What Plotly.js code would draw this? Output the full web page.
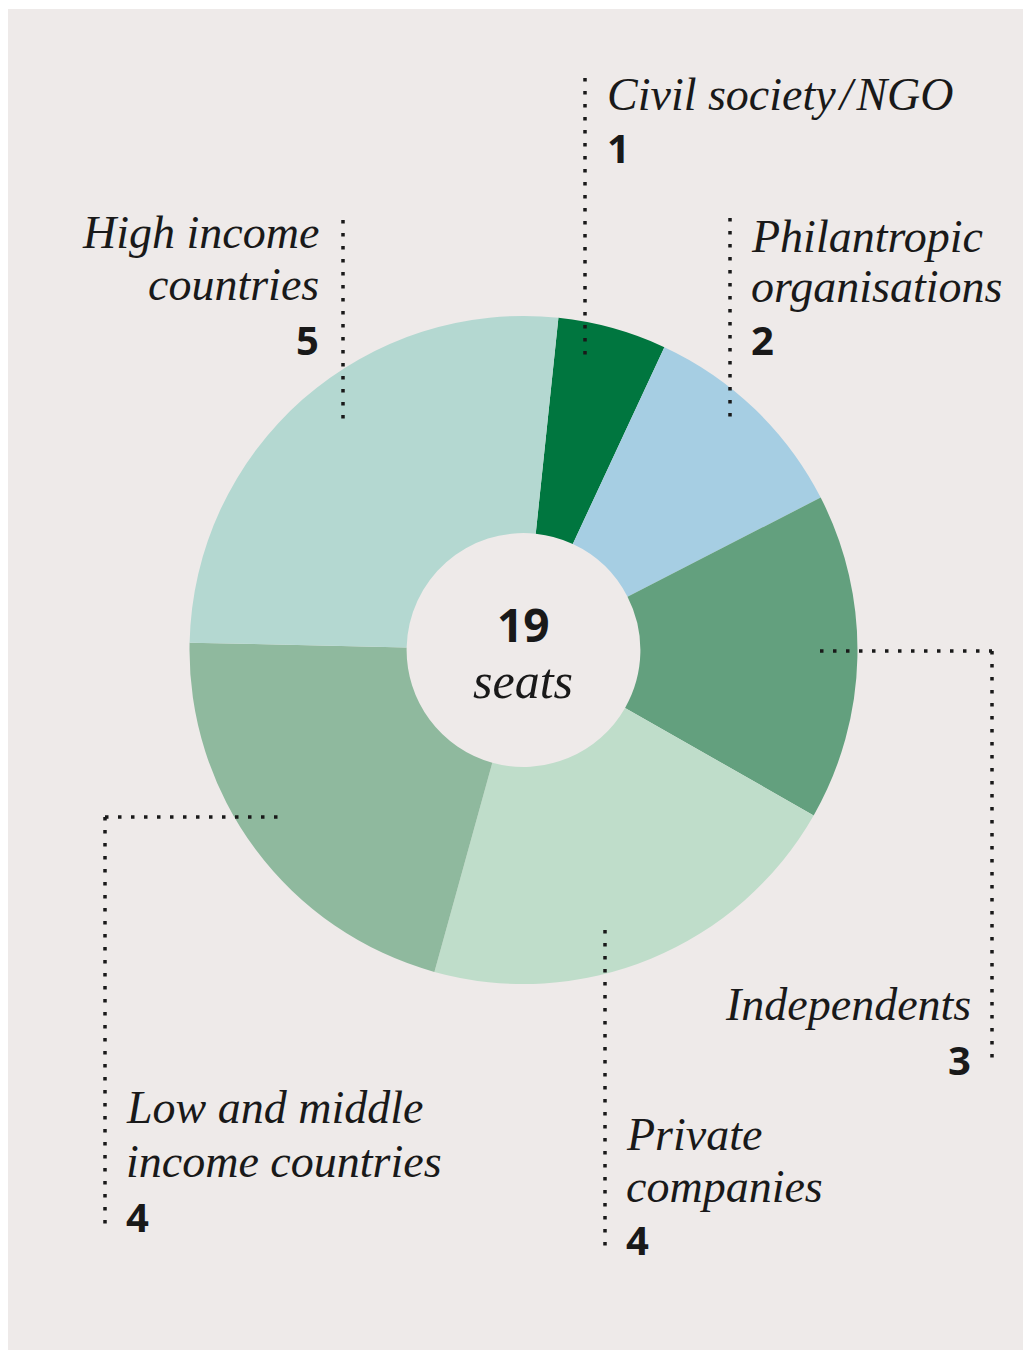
<!DOCTYPE html>
<html>
<head>
<meta charset="utf-8">
<script src="https://cdn.plot.ly/plotly-3.0.1.min.js"></script>
<style>html,body{margin:0;padding:0;background:#fff;}#chart{width:1023px;height:1350px;}</style>
</head>
<body>
<div id="chart"></div>
<script>
// ---- data ----
var labels = ['Civil society / NGO', 'Philantropic<br>organisations', 'Independents', 'Private<br>companies', 'Low and middle<br>income countries', 'High income<br>countries'];
var values = [1, 2, 3, 4, 4, 5];
var colors = ['#00763f', '#a6cee3', '#63a07e', '#bfddca', '#8fb99e', '#b4d8d1'];
var centerNumber = '19';
var centerWord = 'seats';

// ---- layout helpers (pixel positions of label blocks) ----
var W = 1023, H = 1350;
function px(x) { return x / W; }
function py(y) { return 1 - y / H; }

var labelPos = [
  {x: 605, anchor: 'left',  base: [110], num: 163},
  {x: 749, anchor: 'left',  base: [252, 302], num: 355},
  {x: 973, anchor: 'right', base: [1020], num: 1075},
  {x: 624, anchor: 'left',  base: [1150, 1202], num: 1255},
  {x: 124, anchor: 'left',  base: [1123, 1177], num: 1232},
  {x: 321, anchor: 'right', base: [248, 300], num: 355}
];
var leaders = [
  [[585, 78, 585, 358]],
  [[730, 218, 730, 420]],
  [[820, 651, 992, 651], [992, 651, 992, 1065]],
  [[605, 930, 605, 1255]],
  [[105, 817, 278, 817], [105, 817, 105, 1232]],
  [[343, 220, 343, 420]]
];

var serif = 'Liberation Serif, DejaVu Serif, serif';
var sans = 'Open Sans, Noto Sans, sans-serif';
var serifSize = 46, numSize = 40;
var serifOff = 0.3375 * serifSize;
var sansOff = 0.388 * numSize;
var ink = '#191919';

function tightSpaces(s) {
  return s.replace(/ \/ /g, '<span style="font-size:16px"> </span>/<span style="font-size:16px"> </span>');
}

var annotations = [];
var shapes = [];

labels.forEach(function (lab, i) {
  var p = labelPos[i];
  lab.split('<br>').forEach(function (line, j) {
    annotations.push({
      xref: 'paper', yref: 'paper', x: px(p.x), y: py(p.base[j] - serifOff),
      xanchor: p.anchor, yanchor: 'middle', showarrow: false,
      text: '<i>' + tightSpaces(line) + '</i>',
      font: {family: serif, size: serifSize, color: ink, style: 'italic'}
    });
  });
  annotations.push({
    xref: 'paper', yref: 'paper', x: px(p.x), y: py(p.num - sansOff),
    xanchor: p.anchor, yanchor: 'middle', showarrow: false,
    text: '<b>' + values[i] + '</b>',
    font: {family: sans, size: numSize, color: ink, weight: 700}
  });
  leaders[i].forEach(function (s) {
    shapes.push({
      type: 'line', xref: 'paper', yref: 'paper', layer: 'above',
      x0: px(s[0]), y0: py(s[1]), x1: px(s[2]), y1: py(s[3]),
      line: {color: ink, width: 3.5, dash: '3.5px,9.5px'}
    });
  });
});

annotations.push({
  xref: 'paper', yref: 'paper', x: px(523), y: py(642 - 0.388 * 46),
  xanchor: 'center', yanchor: 'middle', showarrow: false,
  text: '<b>' + centerNumber + '</b>',
  font: {family: sans, size: 46, color: ink, weight: 700}
});
annotations.push({
  xref: 'paper', yref: 'paper', x: px(523), y: py(698 - 0.3375 * 50),
  xanchor: 'center', yanchor: 'middle', showarrow: false,
  text: '<i>' + centerWord + '</i>',
  font: {family: serif, size: 50, color: ink, style: 'italic'}
});

// white frame strips
shapes.push({type: 'rect', xref: 'paper', yref: 'paper', layer: 'above', x0: 0, x1: px(8), y0: 0, y1: 1, fillcolor: '#ffffff', line: {width: 0}});
shapes.push({type: 'rect', xref: 'paper', yref: 'paper', layer: 'above', x0: 0, x1: 1, y0: py(9), y1: 1, fillcolor: '#ffffff', line: {width: 0}});

var cx = 523.5, cy = 650, R = 334;
var trace = {
  type: 'pie',
  labels: labels,
  values: values,
  sort: false,
  direction: 'clockwise',
  rotation: 6,
  hole: 0.35,
  textinfo: 'none',
  hoverinfo: 'none',
  showlegend: false,
  marker: {colors: colors, line: {width: 0}},
  domain: {x: [px(cx - R), px(cx + R)], y: [py(cy + R), py(cy - R)]}
};

var layout = {
  width: W, height: H,
  margin: {l: 0, r: 0, t: 0, b: 0},
  paper_bgcolor: '#eeeae9',
  showlegend: false,
  annotations: annotations,
  shapes: shapes
};

Plotly.newPlot('chart', [trace], layout, {displayModeBar: false, staticPlot: true});
</script>
</body>
</html>
